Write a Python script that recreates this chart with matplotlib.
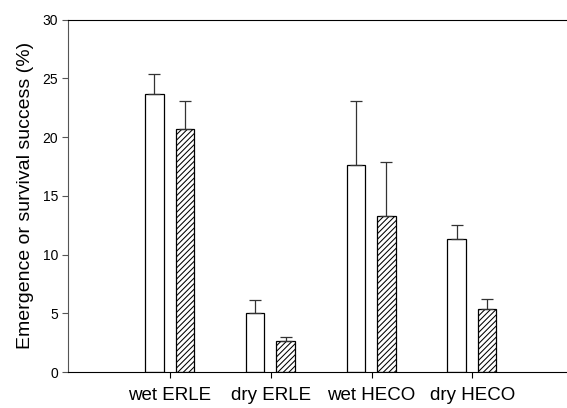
import numpy as np
import matplotlib.pyplot as plt

plt.rcParams['font.family'] = ['Liberation Sans', 'DejaVu Sans']

# data
categories = ['wet ERLE', 'dry ERLE', 'wet HECO', 'dry HECO']
emergence = [23.65, 5.0, 17.6, 11.3]
emergence_err = [1.75, 1.15, 5.5, 1.2]
survival = [20.7, 2.65, 13.3, 5.35]
survival_err = [2.4, 0.33, 4.6, 0.85]

x = np.arange(len(categories))
w = 0.184

fig = plt.figure(figsize=(5.67, 4.08), dpi=100)
ax = fig.add_axes([0.12, 0.088, 0.88, 0.864])

plt.rcParams['hatch.linewidth'] = 0.75
ax.bar(x - 0.155, emergence, w, color='white', edgecolor='black', linewidth=0.9,
       yerr=[np.zeros(4), emergence_err], capsize=4,
       error_kw=dict(ecolor='#333333', elinewidth=0.9, capthick=0.9))
ax.bar(x + 0.148, survival, w, color='white', edgecolor='black', linewidth=0.9,
       hatch='//////',
       yerr=[np.zeros(4), survival_err], capsize=4,
       error_kw=dict(ecolor='#333333', elinewidth=0.9, capthick=0.9))

ax.set_xlim(-1.013, 3.94)
ax.set_ylim(0, 30)
ax.set_yticks(range(0, 31, 5))
ax.set_xticks(x)
ax.set_xticklabels(categories, fontsize=13.5)
ax.tick_params(axis='y', labelsize=10, length=4, color='#555555', pad=3)
ax.tick_params(axis='x', length=4, pad=7)
ax.set_ylabel('Emergence or survival success (%)', fontsize=14, labelpad=6)

ax.spines['right'].set_visible(False)
ax.spines['left'].set_color('#555555')

plt.savefig('out.png', dpi=100)
